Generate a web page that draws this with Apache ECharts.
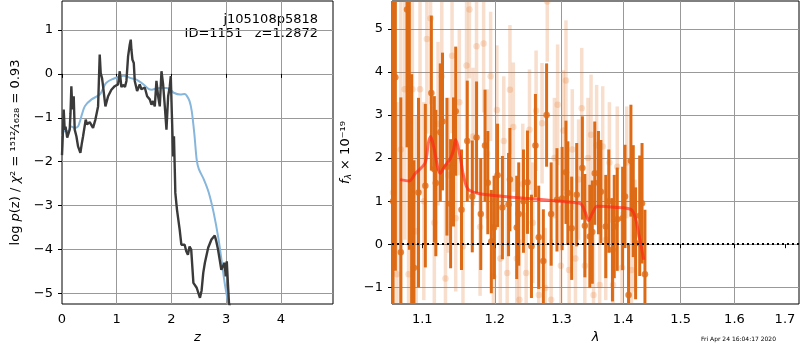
<!DOCTYPE html>
<html>
<head>
<meta charset="utf-8">
<script src="https://cdn.jsdelivr.net/npm/echarts@6/dist/echarts.min.js"></script>
<style>
html, body { margin: 0; padding: 0; background: #fff; }
#chart { width: 800px; height: 350px; }
</style>
</head>
<body>
<div id="chart"></div>
<script>
// tick values for the log wavelength axis
var lamTicks = [1.1, 1.2, 1.3, 1.4, 1.5, 1.6, 1.7];

// left panel: [z, log p(z)]
var pzCurve = [
  [0.0,-1.85],[0.007,-1.65],[0.031,-0.81],[0.049,-1.27],[0.065,-1.2],[0.080,-1.2],[0.095,-1.45],
  [0.110,-1.42],[0.141,-1.27],[0.155,-0.9],[0.171,-0.28],[0.189,-0.81],[0.214,-0.51],[0.232,-1.27],
  [0.263,-1.42],[0.293,-1.65],[0.336,-1.80],[0.36,-1.6],[0.385,-1.42],[0.433,-1.04],[0.458,-1.15],
  [0.506,-1.1],[0.567,-1.23],[0.610,-1.04],[0.659,-0.74],[0.689,0.44],[0.707,0.02],[0.732,-0.1],
  [0.750,-0.28],[0.793,-0.74],[0.842,-0.51],[0.902,-0.36],[0.963,-0.28],[1.024,-0.24],[1.055,0.06],
  [1.085,-0.3],[1.116,-0.25],[1.150,-0.3],[1.177,-0.16],[1.207,0.40],[1.238,0.67],[1.256,0.78],
  [1.268,0.55],[1.287,0.32],[1.311,0.25],[1.329,-0.16],[1.372,-0.39],[1.420,-0.24],[1.451,-0.35],
  [1.512,-0.31],[1.555,-0.51],[1.603,-0.58],[1.634,-0.70],[1.664,-0.62],[1.695,-0.74],[1.725,-0.16],
  [1.756,-0.51],[1.786,-0.74],[1.817,0.06],[1.847,-0.24],[1.878,-0.74],[1.908,-1.27],[1.939,-0.51],
  [1.969,-0.28],[1.987,-0.05],[2.006,-0.89],[2.030,-1.88],[2.045,-1.42],[2.06,-2.18],[2.07,-2.71],
  [2.10,-3.09],[2.15,-3.55],[2.18,-3.89],[2.21,-3.93],[2.24,-3.89],[2.27,-4.04],[2.30,-4.12],
  [2.33,-3.93],[2.36,-4.0],[2.40,-4.76],[2.46,-4.87],[2.49,-4.85],[2.52,-5.10],[2.55,-4.93],
  [2.58,-4.53],[2.61,-4.30],[2.67,-3.96],[2.73,-3.77],[2.79,-3.68],[2.82,-3.82],[2.85,-4.0],
  [2.88,-4.23],[2.91,-4.46],[2.94,-4.38],[2.97,-4.30],[2.99,-4.61],[3.01,-4.27],[3.03,-4.76],
  [3.05,-5.22],[3.08,-5.35]
];

// left panel: [z, chi2-based curve]
var chi2Curve = [
  [0.0,-1.42],[0.05,-1.3],[0.11,-1.3],[0.17,-1.2],[0.23,-1.23],[0.29,-1.2],[0.32,-1.11],[0.37,-0.9],
  [0.42,-0.73],[0.54,-0.58],[0.69,-0.47],[0.75,-0.33],[0.81,-0.2],[0.94,-0.11],[1.05,-0.06],
  [1.12,-0.04],[1.24,-0.09],[1.36,-0.13],[1.49,-0.24],[1.58,-0.34],[1.64,-0.36],[1.72,-0.33],
  [1.79,-0.32],[1.91,-0.32],[2.0,-0.38],[2.04,-0.43],[2.16,-0.47],[2.24,-0.46],[2.28,-0.5],
  [2.33,-0.62],[2.37,-0.85],[2.42,-1.4],[2.46,-1.95],[2.5,-2.17],[2.59,-2.4],[2.68,-2.7],
  [2.77,-3.16],[2.86,-3.77],[2.92,-4.3],[2.98,-4.83],[3.05,-5.3]
];

// right panel: [lambda, flux, err]
var specMain = [
  [1.062,1.0,5.0],[1.065,3.88,4.5],[1.072,-0.19,3.6],[1.080,5.45,3.2],[1.083,2.87,3.0],
  [1.086,1.15,2.8],[1.089,-0.55,2.5],[1.095,1.2,2.2],[1.104,1.36,1.9],[1.112,3.51,1.8],
  [1.116,1.74,1.7],[1.118,1.42,1.7],[1.124,2.6,1.6],[1.127,2.85,1.6],[1.133,1.8,1.6],
  [1.138,0.94,1.5],[1.142,1.91,1.5],[1.145,3.09,1.5],[1.153,0.8,1.4],[1.161,2.40,1.4],
  [1.168,1.11,1.3],[1.174,2.48,1.3],[1.180,0.70,1.3],[1.186,2.29,1.3],[1.190,1.43,1.2],
  [1.195,0.06,1.2],[1.199,0.39,1.2],[1.204,1.60,1.2],[1.211,0.85,1.2],[1.220,0.92,1.2],
  [1.222,1.50,1.2],[1.232,0.39,1.2],[1.235,0.70,1.2],[1.242,1.0,1.2],[1.248,1.44,1.2],
  [1.254,-0.05,1.2],[1.260,2.29,1.2],[1.265,0.16,1.2],[1.272,-0.39,1.2],[1.277,3.0,1.2],
  [1.284,0.70,1.2],[1.293,1.03,1.2],[1.301,1.06,1.2],[1.307,1.67,1.2],[1.310,1.19,1.2],
  [1.316,0.37,1.2],[1.324,1.15,1.2],[1.333,1.77,1.2],[1.337,0.43,1.2],[1.345,0.18,1.2],
  [1.349,0.28,1.2],[1.353,1.65,1.2],[1.359,1.43,1.2],[1.363,1.22,1.2],[1.371,0.41,1.2],
  [1.376,1.0,1.2],[1.382,-0.13,1.2],[1.385,0.41,1.2],[1.390,0.58,1.2],[1.399,0.6,1.2],
  [1.403,1.11,1.2],[1.409,-1.18,1.2],[1.413,1.94,1.3],[1.417,1.0,1.3],[1.421,0.02,1.3],
  [1.428,0.66,1.4],[1.432,0.95,1.4],[1.437,-0.70,1.5]
];

var specFaint = [
  [1.062,1.2,4.5],[1.067,-0.7,4.0],[1.072,2.2,3.9],[1.077,3.6,3.5],[1.082,-0.7,3.2],
  [1.087,3.6,3.0],[1.092,0.3,2.7],[1.097,3.6,2.4],[1.102,1.0,2.3],[1.106,4.77,2.2],
  [1.111,5.25,2.0],[1.116,0.5,2.0],[1.121,2.8,1.9],[1.126,3.9,1.9],[1.131,-0.8,1.8],
  [1.135,1.6,1.8],[1.140,4.38,1.8],[1.145,0.6,1.7],[1.150,3.3,1.7],[1.155,-0.05,1.7],
  [1.160,4.15,1.7],[1.164,5.45,1.6],[1.169,2.5,1.6],[1.174,4.6,1.6],[1.179,0.4,1.6],
  [1.184,4.66,1.6],[1.189,2.1,1.5],[1.194,3.9,1.5],[1.198,-0.75,1.5],[1.203,3.12,1.5],
  [1.208,-0.33,1.5],[1.213,2.4,1.5],[1.218,-0.67,1.5],[1.222,3.59,1.5],[1.227,2.72,1.5],
  [1.232,-0.33,1.5],[1.236,-1.29,1.4],[1.241,1.4,1.4],[1.246,-0.67,1.4],[1.251,2.66,1.4],
  [1.256,0.5,1.4],[1.261,3.1,1.4],[1.265,-1.18,1.4],[1.270,2.81,1.4],[1.275,-1.02,1.4],
  [1.278,5.64,1.4],[1.284,-1.29,1.4],[1.289,2.0,1.4],[1.294,3.24,1.4],[1.299,-0.5,1.4],
  [1.303,2.64,1.4],[1.307,3.8,1.4],[1.312,-0.6,1.4],[1.317,2.2,1.4],[1.322,-0.33,1.4],
  [1.327,1.5,1.4],[1.332,3.16,1.4],[1.337,-0.5,1.4],[1.342,2.0,1.4],[1.347,2.54,1.4],
  [1.351,-1.18,1.4],[1.356,2.3,1.4],[1.361,-0.95,1.4],[1.366,2.27,1.4],[1.371,0.1,1.4],
  [1.377,1.9,1.4],[1.383,-0.95,1.4],[1.390,1.8,1.4],[1.398,-0.55,1.3],[1.406,1.9,1.3],
  [1.414,-0.6,1.3],[1.420,0.2,1.3]
];

// model: [lambda, flux]
var modelCurve = [
  [1.071,1.50],[1.083,1.47],[1.091,1.65],[1.1035,1.88],[1.108,2.35],[1.111,2.50],[1.115,2.27],
  [1.124,1.65],[1.130,1.81],[1.138,2.0],[1.142,2.19],[1.145,2.43],[1.151,2.04],[1.156,1.57],
  [1.162,1.28],[1.174,1.19],[1.193,1.14],[1.226,1.09],[1.26,1.05],[1.303,0.99],[1.33,0.94],
  [1.337,0.76],[1.343,0.55],[1.349,0.72],[1.357,0.88],[1.385,0.86],[1.413,0.81],[1.42,0.64],
  [1.426,0.26],[1.435,-0.36]
];

var FONT = 'DejaVu Sans';
var ORANGE = '#dd6a15';

function minusFmt(v) { return v < 0 ? '\u2212' + Math.abs(v) : String(v); }

function errorBars(rows, color, width) {
  return {
    type: 'custom', xAxisIndex: 1, yAxisIndex: 1, silent: true, z: 2,
    data: rows.map(function (r) { return [r[0], r[1] - r[2], r[1] + r[2]]; }),
    encode: { x: 0, y: [1, 2] },
    renderItem: function (params, api) {
      var cs = params.coordSys;
      var lo = api.coord([api.value(0), api.value(1)]);
      var hi = api.coord([api.value(0), api.value(2)]);
      var y1 = Math.min(Math.max(lo[1], cs.y), cs.y + cs.height);
      var y2 = Math.min(Math.max(hi[1], cs.y), cs.y + cs.height);
      return {
        type: 'line',
        shape: { x1: lo[0], y1: y1, x2: hi[0], y2: y2 },
        style: { stroke: color, lineWidth: width }
      };
    }
  };
}

function labelStyle(fmt, vals) {
  var o = { fontFamily: FONT, fontSize: 13, color: '#000', margin: 9, showMinLabel: false, showMaxLabel: false };
  if (fmt) o.formatter = fmt;
  if (vals) { o.customValues = vals; o.showMinLabel = true; o.showMaxLabel = true; }
  return o;
}
function tickStyle(vals) {
  var o = { show: true, inside: false, length: 4, lineStyle: { color: '#000', width: 1 } };
  if (vals) o.customValues = vals;
  return o;
}
function splitStyle() {
  return { show: true, showMinLine: false, showMaxLine: false, lineStyle: { color: '#999999', width: 1, type: 'solid', opacity: 1 } };
}
function nameRich() {
  return {
    rich: {
      n: { fontFamily: FONT, fontSize: 13, color: '#000' },
      i: { fontFamily: FONT, fontSize: 13, fontStyle: 'italic', color: '#000' },
      s: { fontFamily: FONT, fontSize: 9, fontStyle: 'italic', color: '#000', padding: [6, 0, 0, 0] }
    }
  };
}

var chart = echarts.init(document.getElementById('chart'));

var option = {
  animation: false,
  grid: [
    { left: 62, top: 1, width: 271, height: 303, show: true, borderColor: '#000', borderWidth: 1, backgroundColor: 'rgba(0,0,0,0)' },
    { left: 392, top: 1, width: 407, height: 303, show: true, borderColor: '#000', borderWidth: 1, backgroundColor: 'rgba(0,0,0,0)' }
  ],
  xAxis: [
    {
      type: 'value', gridIndex: 0, min: 0, max: 4.95,
      name: '{i|z}', nameLocation: 'middle', nameGap: 26, nameTextStyle: nameRich(),
      axisLine: { show: false }, splitLine: splitStyle(),
      axisTick: tickStyle(), axisLabel: Object.assign(labelStyle(), { showMinLabel: true })
    },
    {
      type: 'log', logBase: 10, gridIndex: 1, min: 1.0607, max: 1.7289,
      name: '{i|λ}', nameLocation: 'middle', nameGap: 26, nameTextStyle: nameRich(),
      axisLine: { show: false }, splitLine: splitStyle(),
      axisTick: tickStyle(lamTicks),
      axisLabel: labelStyle(function (v) { return Number(v).toFixed(1); }, lamTicks)
    }
  ],
  yAxis: [
    {
      type: 'value', gridIndex: 0, min: -5.24, max: 1.66,
      name: '{n|log }{i|p}{n|(z) / }{i|χ}{n|² = ¹⁵¹²⁄₁₆₂₈ = 0.93}',
      nameLocation: 'middle', nameGap: 40, nameRotate: 90, nameTextStyle: nameRich(),
      axisLine: { show: false }, splitLine: splitStyle(),
      axisTick: tickStyle(), axisLabel: labelStyle(minusFmt)
    },
    {
      type: 'value', gridIndex: 1, min: -1.39, max: 5.65,
      name: '{i|f}{s|λ}{n| × 10⁻¹⁹}',
      nameLocation: 'middle', nameGap: 38, nameRotate: 90, nameTextStyle: nameRich(),
      axisLine: { show: false }, splitLine: splitStyle(),
      axisTick: tickStyle(), axisLabel: labelStyle(minusFmt)
    }
  ],
  graphic: [
    { type: 'text', right: 482, top: 13, style: { text: 'j105108p5818', font: '13px "DejaVu Sans"', fill: '#000', textAlign: 'right' } },
    { type: 'text', right: 482, top: 27, style: { text: 'ID=1151   z=1.2872', font: '13px "DejaVu Sans"', fill: '#000', textAlign: 'right' } },
    { type: 'text', left: 701, top: 336, style: { text: 'Fri Apr 24 16:04:17 2020', font: '6px "DejaVu Sans"', fill: '#000' } }
  ],
  series: [
    {
      type: 'line', xAxisIndex: 0, yAxisIndex: 0, data: chi2Curve, smooth: 0.3, showSymbol: false, z: 2,
      lineStyle: { color: '#86b6dc', width: 2 }, silent: true
    },
    {
      type: 'line', xAxisIndex: 0, yAxisIndex: 0, data: pzCurve, showSymbol: false, z: 2,
      lineStyle: { color: '#3a3a3a', width: 2.4 }, silent: true
    },
    errorBars(specFaint, 'rgba(221,106,21,0.22)', 3.5),
    {
      type: 'scatter', xAxisIndex: 1, yAxisIndex: 1, symbolSize: 6.5, silent: true, z: 2,
      data: specFaint.map(function (r) { return [r[0], r[1]]; }),
      itemStyle: { color: 'rgba(221,106,21,0.25)' }
    },
    errorBars(specMain, ORANGE, 3),
    {
      type: 'scatter', xAxisIndex: 1, yAxisIndex: 1, symbolSize: 6.5, silent: true, z: 2,
      data: specMain.map(function (r) { return [r[0], r[1]]; }),
      itemStyle: { color: ORANGE }
    },
    {
      type: 'line', xAxisIndex: 1, yAxisIndex: 1, data: modelCurve, smooth: 0.3, showSymbol: false, z: 3,
      lineStyle: { color: 'rgba(255,35,20,0.65)', width: 3 }, silent: true,
      markLine: {
        silent: true, symbol: 'none', label: { show: false },
        lineStyle: { color: '#000', type: [2, 3], width: 2 },
        data: [{ yAxis: 0 }]
      }
    }
  ]
};

chart.setOption(option);
</script>
</body>
</html>
